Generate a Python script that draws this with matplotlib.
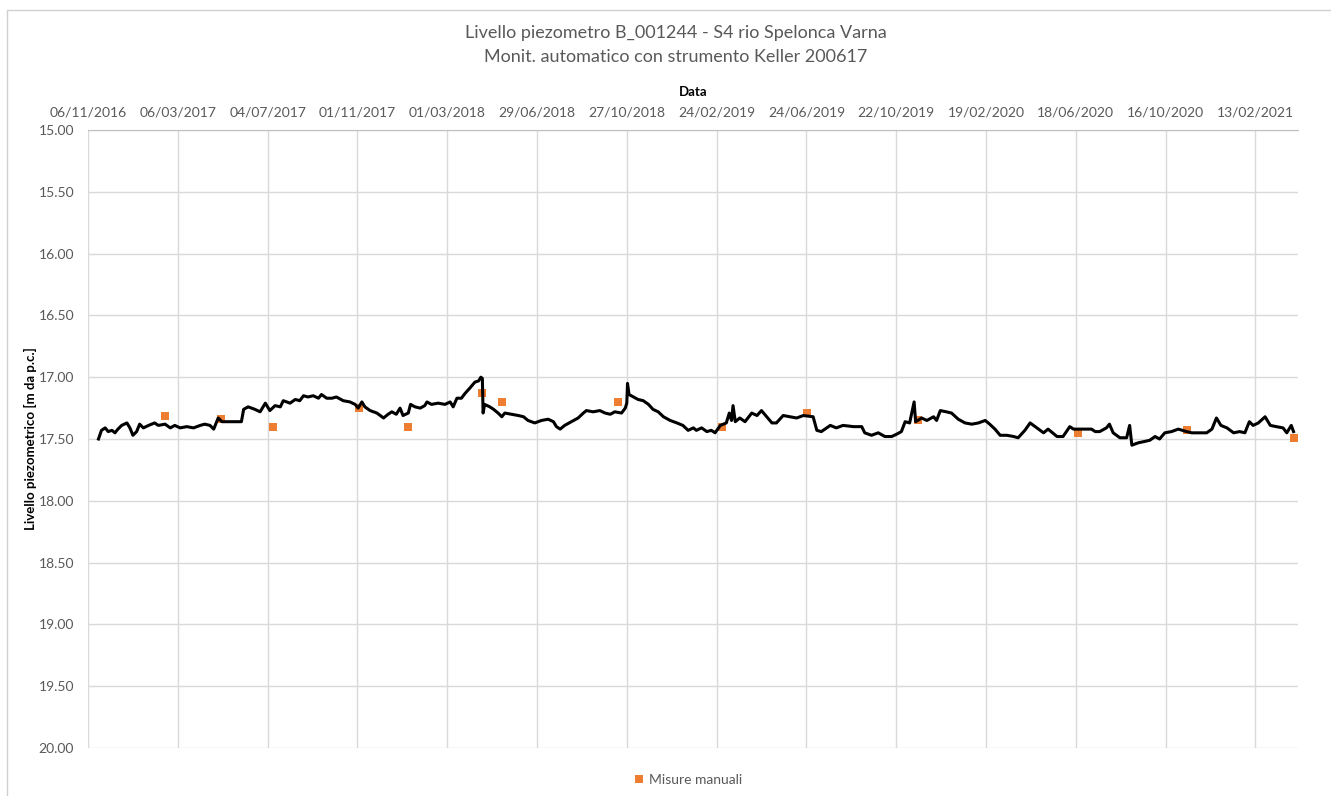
import numpy as np
import pandas as pd
import matplotlib
matplotlib.use("Agg")
from matplotlib import pyplot as plt
from matplotlib.patches import Rectangle

plt.rcParams['font.family'] = ['Lato', 'DejaVu Sans']

# Automatic readings (Keller logger)
auto_dates = [
    "2016-11-20", "2016-11-24", "2016-11-29", "2016-12-03", "2016-12-08", "2016-12-12",
    "2016-12-16", "2016-12-21", "2016-12-28", "2017-01-01", "2017-01-05", "2017-01-10",
    "2017-01-14", "2017-01-19", "2017-01-26", "2017-02-03", "2017-02-08", "2017-02-17",
    "2017-02-24", "2017-03-02", "2017-03-09", "2017-03-18", "2017-03-27", "2017-04-05",
    "2017-04-11", "2017-04-18", "2017-04-23", "2017-04-29", "2017-05-04", "2017-05-30",
    "2017-06-02", "2017-06-08", "2017-06-17", "2017-06-24", "2017-07-01", "2017-07-07",
    "2017-07-14", "2017-07-21", "2017-07-25", "2017-08-03", "2017-08-10", "2017-08-16",
    "2017-08-21", "2017-08-27", "2017-09-03", "2017-09-10", "2017-09-14", "2017-09-21",
    "2017-09-28", "2017-10-04", "2017-10-13", "2017-10-22", "2017-10-29", "2017-11-02",
    "2017-11-07", "2017-11-11", "2017-11-18", "2017-11-27", "2017-12-06", "2017-12-12",
    "2017-12-17", "2017-12-23", "2017-12-28", "2018-01-01", "2018-01-08", "2018-01-11",
    "2018-01-17", "2018-01-24", "2018-01-30", "2018-02-02", "2018-02-08", "2018-02-17",
    "2018-02-26", "2018-03-05", "2018-03-09", "2018-03-14", "2018-03-20", "2018-03-25",
    "2018-03-31", "2018-04-07", "2018-04-12", "2018-04-15", "2018-04-17", "2018-04-18",
    "2018-04-20", "2018-04-27", "2018-05-02", "2018-05-08", "2018-05-13", "2018-05-17",
    "2018-05-26", "2018-06-04", "2018-06-11", "2018-06-17", "2018-06-26", "2018-07-05",
    "2018-07-14", "2018-07-21", "2018-07-25", "2018-07-30", "2018-08-05", "2018-08-14",
    "2018-08-23", "2018-08-30", "2018-09-03", "2018-09-12", "2018-09-21", "2018-09-28",
    "2018-10-05", "2018-10-11", "2018-10-20", "2018-10-25", "2018-10-27", "2018-10-28",
    "2018-10-30", "2018-11-05", "2018-11-11", "2018-11-18", "2018-11-25", "2018-12-01",
    "2018-12-08", "2018-12-15", "2018-12-24", "2019-01-02", "2019-01-10", "2019-01-17",
    "2019-01-24", "2019-01-28", "2019-02-04", "2019-02-11", "2019-02-17", "2019-02-22",
    "2019-03-01", "2019-03-09", "2019-03-13", "2019-03-16", "2019-03-18", "2019-03-21",
    "2019-03-27", "2019-04-03", "2019-04-12", "2019-04-19", "2019-04-25", "2019-05-02",
    "2019-05-09", "2019-05-15", "2019-05-24", "2019-06-02", "2019-06-11", "2019-06-20",
    "2019-07-03", "2019-07-08", "2019-07-14", "2019-07-26", "2019-08-03", "2019-08-12",
    "2019-08-26", "2019-09-06", "2019-09-10", "2019-09-19", "2019-09-28", "2019-10-07",
    "2019-10-16", "2019-10-23", "2019-10-29", "2019-11-03", "2019-11-09", "2019-11-15",
    "2019-11-17", "2019-11-25", "2019-12-02", "2019-12-11", "2019-12-15", "2019-12-20",
    "2019-12-28", "2020-01-04", "2020-01-13", "2020-01-22", "2020-01-31", "2020-02-09",
    "2020-02-18", "2020-02-24", "2020-03-02", "2020-03-09", "2020-03-18", "2020-03-27",
    "2020-04-02", "2020-04-11", "2020-04-18", "2020-04-27", "2020-05-06", "2020-05-12",
    "2020-05-24", "2020-06-01", "2020-06-10", "2020-06-15", "2020-07-09", "2020-07-14",
    "2020-07-20", "2020-07-29", "2020-08-02", "2020-08-07", "2020-08-16", "2020-08-25",
    "2020-08-29", "2020-09-01", "2020-09-10", "2020-09-18", "2020-09-25", "2020-10-02",
    "2020-10-08", "2020-10-15", "2020-10-24", "2020-11-02", "2020-11-13", "2020-11-20",
    "2020-11-29", "2020-12-10", "2020-12-17", "2020-12-23", "2020-12-29", "2021-01-06",
    "2021-01-15", "2021-01-23", "2021-01-30", "2021-02-05", "2021-02-10", "2021-02-17",
    "2021-02-26", "2021-03-05", "2021-03-13", "2021-03-22", "2021-03-27", "2021-04-02",
    "2021-04-05",
]
auto_level = [
    17.50, 17.43, 17.41, 17.44, 17.43, 17.45,
    17.42, 17.39, 17.37, 17.41, 17.47, 17.44,
    17.38, 17.41, 17.39, 17.37, 17.39, 17.38,
    17.41, 17.39, 17.41, 17.40, 17.41, 17.39,
    17.38, 17.39, 17.42, 17.33, 17.36, 17.36,
    17.26, 17.24, 17.26, 17.28, 17.21, 17.27,
    17.23, 17.24, 17.19, 17.21, 17.18, 17.19,
    17.15, 17.16, 17.15, 17.17, 17.14, 17.17,
    17.17, 17.16, 17.19, 17.20, 17.22, 17.25,
    17.20, 17.24, 17.27, 17.29, 17.33, 17.30,
    17.28, 17.30, 17.25, 17.31, 17.29, 17.22,
    17.24, 17.25, 17.23, 17.20, 17.22, 17.21,
    17.22, 17.20, 17.24, 17.17, 17.17, 17.13,
    17.09, 17.04, 17.03, 17.00, 17.01, 17.29,
    17.22, 17.24, 17.26, 17.29, 17.32, 17.29,
    17.30, 17.31, 17.32, 17.35, 17.37, 17.35,
    17.34, 17.36, 17.40, 17.42, 17.39, 17.36,
    17.33, 17.29, 17.27, 17.28, 17.27, 17.29,
    17.30, 17.28, 17.29, 17.25, 17.21, 17.05,
    17.14, 17.16, 17.18, 17.19, 17.22, 17.26,
    17.28, 17.32, 17.35, 17.37, 17.39, 17.43,
    17.41, 17.43, 17.41, 17.44, 17.43, 17.45,
    17.39, 17.37, 17.29, 17.35, 17.23, 17.36,
    17.33, 17.36, 17.29, 17.31, 17.27, 17.32,
    17.37, 17.37, 17.31, 17.32, 17.33, 17.31,
    17.32, 17.43, 17.44, 17.39, 17.41, 17.39,
    17.40, 17.40, 17.45, 17.47, 17.45, 17.48,
    17.48, 17.46, 17.44, 17.36, 17.37, 17.20,
    17.36, 17.33, 17.35, 17.32, 17.35, 17.27,
    17.28, 17.29, 17.34, 17.37, 17.38, 17.37,
    17.35, 17.38, 17.42, 17.47, 17.47, 17.48,
    17.49, 17.43, 17.37, 17.41, 17.45, 17.42,
    17.48, 17.48, 17.40, 17.42, 17.42, 17.44,
    17.44, 17.41, 17.38, 17.45, 17.49, 17.49,
    17.39, 17.55, 17.53, 17.52, 17.51, 17.48,
    17.50, 17.45, 17.44, 17.42, 17.44, 17.45,
    17.45, 17.45, 17.42, 17.33, 17.39, 17.41,
    17.45, 17.44, 17.45, 17.36, 17.39, 17.37,
    17.32, 17.39, 17.40, 17.41, 17.45, 17.39,
    17.44,
]

# Manual measurements
man_dates = [
    "2017-02-17", "2017-05-03", "2017-07-11", "2017-11-03", "2018-01-08", "2018-04-17",
    "2018-05-13", "2018-10-15", "2019-03-03", "2019-06-25", "2019-11-20", "2020-06-21",
    "2020-11-14", "2021-04-06",
]
man_level = [
    17.31, 17.34, 17.40, 17.25, 17.40, 17.13,
    17.20, 17.20, 17.40, 17.29, 17.35, 17.45,
    17.43, 17.49,
]

auto_dates = pd.to_datetime(auto_dates)
man_dates = pd.to_datetime(man_dates)

grey = "#595959"
grid_col = "#d9d9d9"

fig = plt.figure(figsize=(13.31, 7.96), dpi=100)
ax = fig.add_axes([88 / 1331, 1 - 748 / 796, (1298 - 88) / 1331, (748 - 130) / 796])

ax.plot(auto_dates, auto_level, color="black", linewidth=2.2, zorder=4)
ax.plot(man_dates, man_level, linestyle="none", marker="s", markersize=5.5,
        markeredgewidth=0, color="#ED7D31", label="Misure manuali", zorder=3)

ticks = pd.date_range("2016-11-06", periods=14, freq="120D")
ax.set_xlim(pd.Timestamp("2016-11-06"), pd.Timestamp("2021-04-11"))
ax.set_xticks(ticks)
ax.set_xticklabels([t.strftime("%d/%m/%Y") for t in ticks])
ax.xaxis.tick_top()
ax.xaxis.set_label_position("top")

yt = np.arange(15, 20.01, 0.5)
ax.set_ylim(20, 15)
ax.set_yticks(yt)
ax.set_yticklabels(["%.2f" % v for v in yt])

ax.tick_params(axis="both", length=0, labelsize=10, labelcolor=grey)
ax.tick_params(axis="x", pad=8)
ax.tick_params(axis="y", pad=10)
ax.grid(True, color=grid_col, linewidth=1)
for s in ["right", "bottom", "left"]:
    ax.spines[s].set_visible(False)
ax.spines["top"].set_color("#bfbfbf")

ax.set_xlabel("Data", fontsize=9.5, fontweight="bold", color="black", labelpad=8)
ax.set_ylabel("Livello piezometrico [m da p.c.]", fontsize=9.5, fontweight="bold",
              color="black")
ax.yaxis.set_label_coords((37 - 88) / 1210, 0.5)

fig.text(676 / 1331, 1 - 33 / 796, "Livello piezometro B_001244 - S4 rio Spelonca Varna",
         ha="center", va="center", fontsize=13, color=grey)
fig.text(676 / 1331, 1 - 57 / 796, "Monit. automatico con strumento Keller 200617",
         ha="center", va="center", fontsize=13, color=grey)

fig.legend(loc="center", bbox_to_anchor=(688 / 1331, 1 - 780 / 796), frameon=False,
           fontsize=10, handlelength=0.8, handletextpad=0.3, labelcolor=grey)

fig.patches.append(Rectangle((7 / 1331, -0.01), 1.0, 1 - 10 / 796 + 0.01,
                             transform=fig.transFigure, fill=False,
                             edgecolor="#d0d0d0", linewidth=1))

plt.savefig("out.png", dpi=100)
